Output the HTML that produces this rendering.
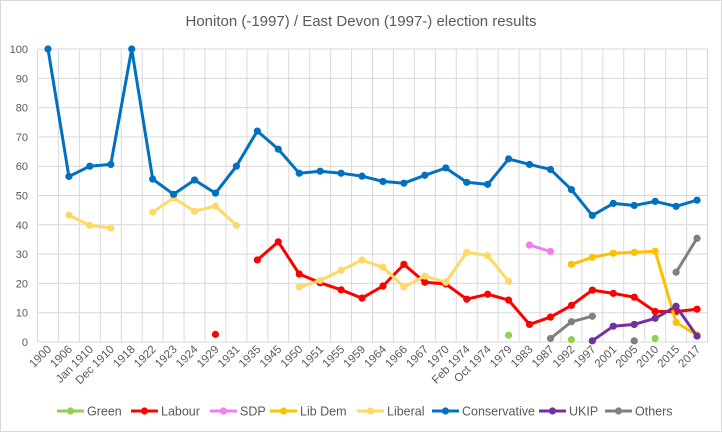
<!DOCTYPE html>
<html><head><meta charset="utf-8"><style>
html,body{margin:0;padding:0;background:#fff;}
svg{display:block;font-family:"Liberation Sans",Arial,sans-serif;}
</style></head><body>
<svg id="c" width="722" height="432" xmlns="http://www.w3.org/2000/svg">
<rect x="0.5" y="0.5" width="721" height="431" fill="#fff" stroke="#d9d9d9"/>
<text x="361" y="26" text-anchor="middle" font-size="15" fill="#595959">Honiton (-1997) / East Devon (1997-) election results</text>
</svg>
<script>
var NS="http://www.w3.org/2000/svg",s=document.getElementById('c');
function el(t,a,txt){var e=document.createElementNS(NS,t);for(var k in a)e.setAttribute(k,a[k]);if(txt!=null)e.textContent=txt;s.appendChild(e);return e;}
var cats=["1900","1906","Jan 1910","Dec 1910","1918","1922","1923","1924","1929","1931","1935","1945","1950","1951","1955","1959","1964","1966","1967","1970","Feb 1974","Oct 1974","1979","1983","1987","1992","1997","2001","2005","2010","2015","2017"];
var L=37.5,R=707.5,T=49,B=342,n=cats.length,w=(R-L)/n;
function X(i){return L+w*(i+0.5);}function Y(v){return B-(B-T)*v/100;}
for(var v=0;v<=100;v+=10){el('line',{x1:L,x2:R,y1:Y(v),y2:Y(v),stroke:'#d9d9d9','stroke-width':1});
el('text',{x:28,y:Y(v)+4,'text-anchor':'end','font-size':11,fill:'#595959'},String(v));}
for(var i=0;i<=n;i++){el('line',{x1:L+w*i,x2:L+w*i,y1:T,y2:B,stroke:'#d9d9d9','stroke-width':1});}
for(var i=0;i<n;i++){var x=X(i)+4,y=350;el('text',{x:x,y:y,'text-anchor':'end','font-size':11.5,fill:'#595959',transform:'rotate(-45 '+x+' '+y+')'},cats[i]);}
var series=[
["Green","#92D050",{22:2.3,25:0.8,29:1.2}],
["Labour","#FF0000",{8:2.6,10:28,11:34.2,12:23.2,13:20.2,14:17.8,15:15,16:19.1,17:26.5,18:20.4,19:19.8,20:14.6,21:16.3,22:14.3,23:6,24:8.5,25:12.5,26:17.7,27:16.6,28:15.3,29:10.4,30:10.4,31:11.2}],
["SDP","#F57CF0",{23:33.1,24:30.9}],
["Lib Dem","#FFC000",{25:26.5,26:28.9,27:30.3,28:30.6,29:31,30:6.7,31:2.4}],
["Liberal","#FFD966",{1:43.3,2:39.8,3:38.9,5:44.3,6:49.2,7:44.6,8:46.4,9:39.8,12:18.8,13:21,14:24.5,15:28,16:25.5,17:18.8,18:22.5,19:20.4,20:30.6,21:29.5,22:20.7}],
["Conservative","#0070C0",[100,56.5,60,60.6,100,55.6,50.4,55.3,50.8,60,72,65.8,57.6,58.3,57.6,56.6,54.8,54.2,56.9,59.4,54.5,53.8,62.5,60.6,58.9,52,43.2,47.3,46.6,48,46.3,48.4]],
["UKIP","#7030A0",{26:0.4,27:5.4,28:6,29:8.1,30:12.2,31:2}],
["Others","#808080",{24:1.2,25:6.9,26:8.8,28:0.4,30:23.8,31:35.4}]];
series.forEach(function(sr){var d=sr[2],pts=[];for(var i=0;i<n;i++){var v=d[i];if(v!=null)pts.push([X(i),Y(v),i]);}
var path='',prev=-9;pts.forEach(function(p){path+=(p[2]==prev+1?'L':'M')+p[0].toFixed(1)+' '+p[1].toFixed(1);prev=p[2];});
el('path',{d:path,fill:'none',stroke:sr[1],'stroke-width':3,'stroke-linejoin':'round'});
pts.forEach(function(p){el('circle',{cx:p[0],cy:p[1],r:3.6,fill:sr[1]});});});
var lx=[57,131,210,270,357,432,539,605];
series.forEach(function(sr,k){var x=lx[k],y=411;el('line',{x1:x,x2:x+27,y1:y,y2:y,stroke:sr[1],'stroke-width':3});el('circle',{cx:x+13.5,cy:y,r:3.6,fill:sr[1]});
el('text',{x:x+30,y:y+4.5,'font-size':12.5,fill:'#595959'},sr[0]);});
</script>
</body></html>
